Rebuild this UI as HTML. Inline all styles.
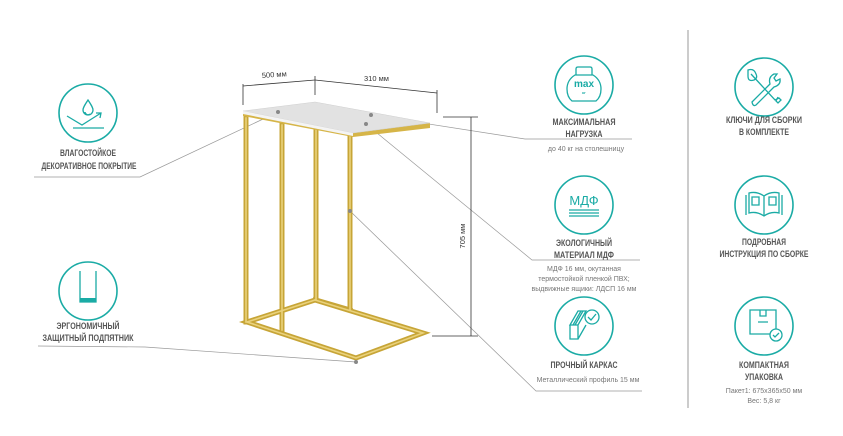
<!DOCTYPE html>
<html><head><meta charset="utf-8"><style>
html,body{margin:0;padding:0;background:#fff;}
svg{display:block;}
.h{font-family:"Liberation Sans",sans-serif;font-weight:bold;font-size:9px;fill:#555;text-anchor:middle;}
.d{font-family:"Liberation Sans",sans-serif;font-size:7px;fill:#777;text-anchor:middle;}
.c{fill:none;stroke:#1aaba5;stroke-width:1.6;}
.i{fill:none;stroke:#1aaba5;stroke-width:1.3;}
.l{fill:none;stroke:#999;stroke-width:0.7;}
.g{fill:none;stroke:#c7a537;stroke-width:5;stroke-linecap:square;}
.g2{fill:none;stroke:#ead27c;stroke-width:1.6;stroke-linecap:square;}
.dim{fill:none;stroke:#333;stroke-width:0.8;}
.dl{font-family:"Liberation Sans",sans-serif;font-size:7.5px;fill:#333;}
</style></head><body>
<svg width="843" height="436" viewBox="0 0 843 436" xmlns="http://www.w3.org/2000/svg">
<line x1="688" y1="30" x2="688" y2="408" stroke="#ccc" stroke-width="2"/>

<polyline class="l" points="34,177 140,177 278,112"/>
<polyline class="l" points="38,346 145,347 356,362"/>
<polyline class="l" points="371,115 525,139 632,139"/>
<polyline class="l" points="366,124 532,260 640,260"/>
<polyline class="l" points="350,211 536,391 642,391"/>

<g>
<polyline class="g" points="315,300 423,333 356,358 247,322 315,300"/>
<line class="g" x1="246" y1="118" x2="246" y2="322"/>
<line class="g" x1="282" y1="125" x2="282" y2="330"/>
<line class="g" x1="316" y1="116" x2="316" y2="300"/>
<line class="g" x1="350" y1="136" x2="350" y2="310"/>
<line class="g" x1="316" y1="300" x2="350" y2="310"/>
<polyline class="g2" points="315,300 423,333 356,358 247,322 315,300"/>
<line class="g2" x1="246" y1="118" x2="246" y2="322"/>
<line class="g2" x1="282" y1="125" x2="282" y2="330"/>
<line class="g2" x1="316" y1="116" x2="316" y2="300"/>
<line class="g2" x1="350" y1="136" x2="350" y2="310"/>
<polygon points="243,116 353,137 430,128 430,123 353,133 243,111" fill="#d6b548"/>
<polygon points="243,111 315,102 430,123 353,133" fill="#e2e2e2" stroke="#cfcfcf" stroke-width="0.5"/>
<polygon points="243,111 353,133 353,136 243,114" fill="#f4f4f4"/>
</g>
<circle cx="278" cy="112" r="2" fill="#888"/>
<circle cx="371" cy="115" r="2" fill="#888"/>
<circle cx="366" cy="124" r="2" fill="#888"/>
<circle cx="350" cy="211" r="2" fill="#888"/>
<circle cx="356" cy="362" r="2" fill="#888"/>

<line class="dim" x1="243" y1="86" x2="315" y2="80"/>
<line class="dim" x1="315" y1="80" x2="437" y2="93"/>
<line class="dim" x1="243" y1="84" x2="243" y2="105"/>
<line class="dim" x1="315" y1="76" x2="315" y2="95"/>
<line class="dim" x1="437" y1="90" x2="437" y2="113"/>
<text class="dl" x="262" y="78" transform="rotate(-4 262 78)">500 мм</text>
<text class="dl" x="364" y="81">310 мм</text>
<line class="dim" x1="471" y1="117" x2="471" y2="336"/>
<line class="dim" x1="443" y1="117" x2="478" y2="117"/>
<line class="dim" x1="432" y1="336" x2="478" y2="336"/>
<text class="dl" x="465" y="236" transform="rotate(-90 465 236)" text-anchor="middle">705 мм</text>

<circle class="c" cx="88" cy="113" r="29"/>
<path class="i" d="M88,100 c-4,6 -5,8 -5,10 a5,5 0 0 0 10,0 c0,-2 -1,-4 -5,-10z M85,112 a3,3 0 0 0 5,2"/>
<path class="i" d="M67,116 L82,125 L101,113 M96,113 L101,113 L100,118 M73,128 L104,128"/>
<text class="h" x="88" y="156" textLength="56" lengthAdjust="spacingAndGlyphs">ВЛАГОСТОЙКОЕ</text>
<text class="h" x="89" y="169" textLength="95" lengthAdjust="spacingAndGlyphs">ДЕКОРАТИВНОЕ ПОКРЫТИЕ</text>

<circle class="c" cx="88" cy="291" r="29"/>
<path class="i" d="M80,271 L80,302 L96,302 L96,271"/>
<rect x="80" y="298" width="16" height="4" fill="#1aaba5"/>
<text class="h" x="88" y="329" textLength="63" lengthAdjust="spacingAndGlyphs">ЭРГОНОМИЧНЫЙ</text>
<text class="h" x="88" y="341" textLength="91" lengthAdjust="spacingAndGlyphs">ЗАЩИТНЫЙ ПОДПЯТНИК</text>

<circle class="c" cx="584" cy="85" r="29"/>
<path class="i" d="M576,75 l0,-6 q0,-2 2,-2 l12,0 q2,0 2,2 l0,6"/>
<path class="i" d="M575,75 q-8,5 -8,14 q0,8 5,12 l24,0 q5,-4 5,-12 q0,-9 -8,-14 z"/>
<text x="584" y="87" font-family="Liberation Sans,sans-serif" font-weight="bold" font-size="10" fill="#1aaba5" text-anchor="middle">max</text>
<text x="584" y="94" font-family="Liberation Sans,sans-serif" font-weight="bold" font-size="4" fill="#1aaba5" text-anchor="middle">кг</text>
<text class="h" x="584" y="125" textLength="63" lengthAdjust="spacingAndGlyphs">МАКСИМАЛЬНАЯ</text>
<text class="h" x="584" y="137" textLength="37" lengthAdjust="spacingAndGlyphs">НАГРУЗКА</text>
<text class="d" x="586" y="151">до 40 кг на столешницу</text>

<circle class="c" cx="584" cy="205" r="29"/>
<text x="584" y="205" font-family="Liberation Sans,sans-serif" font-size="13" fill="#1aaba5" text-anchor="middle">МДФ</text>
<path class="i" d="M569,210 L599,210 M569,213 L599,213 M569,216 L599,216"/>
<text class="h" x="584" y="246" textLength="56" lengthAdjust="spacingAndGlyphs">ЭКОЛОГИЧНЫЙ</text>
<text class="h" x="584" y="258" textLength="60" lengthAdjust="spacingAndGlyphs">МАТЕРИАЛ МДФ</text>
<text class="d" x="584" y="271">МДФ 16 мм, окутанная</text>
<text class="d" x="584" y="281">термостойкой пленкой ПВХ;</text>
<text class="d" x="584" y="291">выдвижные ящики: ЛДСП 16 мм</text>

<circle class="c" cx="584" cy="326" r="29"/>
<path class="i" d="M570,325 l8,-14 l8,0 l-8,14 z M570,325 l0,14 l8,0 l0,-14 M578,339 l8,-14 M573,325 l8,-14 M575,325 l8,-14"/>
<circle class="i" cx="592" cy="317" r="7"/>
<path class="i" d="M588,317 l3,3 l5,-6"/>
<text class="h" x="584" y="368" textLength="67" lengthAdjust="spacingAndGlyphs">ПРОЧНЫЙ КАРКАС</text>
<text class="d" x="588" y="382">Металлический профиль 15 мм</text>

<circle class="c" cx="764" cy="87" r="29"/>
<path class="i" d="M751,74 l24,26 l4,-2 l2,2 l-3,3 l-2,-2 l2,-4 M748,70 q6,-2 8,4 q2,4 -2,6 q-6,2 -6,-4z"/>
<path class="i" d="M752,102 l18,-18 q-2,-7 4,-10 l3,0 l-3,4 l2,3 l4,-2 q1,6 -6,8 l-18,18 q-3,2 -4,-3z"/>
<text class="h" x="764" y="123" textLength="76" lengthAdjust="spacingAndGlyphs">КЛЮЧИ ДЛЯ СБОРКИ</text>
<text class="h" x="764" y="135" textLength="50" lengthAdjust="spacingAndGlyphs">В КОМПЛЕКТЕ</text>

<circle class="c" cx="764" cy="205" r="29"/>
<path class="i" d="M749,193 l0,20 q8,-2 15,3 q7,-5 15,-3 l0,-20 q-8,-2 -15,3 q-7,-5 -15,-3z M764,196 l0,20 M746,195 l0,20 M782,195 l0,20 M752,197 l7,0 l0,8 l-7,0z M769,197 l7,0 l0,8 l-7,0z"/>
<text class="h" x="764" y="245" textLength="44" lengthAdjust="spacingAndGlyphs">ПОДРОБНАЯ</text>
<text class="h" x="764" y="257" textLength="89" lengthAdjust="spacingAndGlyphs">ИНСТРУКЦИЯ ПО СБОРКЕ</text>

<circle class="c" cx="764" cy="326" r="29"/>
<path class="i" d="M750,310 l26,0 l0,24 l-26,0z M760,310 l0,6 l6,0 l0,-6 M758,322 l10,0"/>
<circle cx="776" cy="335" r="6" fill="#fff" stroke="#1aaba5" stroke-width="1.3"/>
<path class="i" d="M773,335 l2,2 l4,-4"/>
<text class="h" x="764" y="368" textLength="50" lengthAdjust="spacingAndGlyphs">КОМПАКТНАЯ</text>
<text class="h" x="764" y="380" textLength="38" lengthAdjust="spacingAndGlyphs">УПАКОВКА</text>
<text class="d" x="764" y="393">Пакет1: 675х365х50 мм</text>
<text class="d" x="764" y="403">Вес: 5,8 кг</text>
</svg>
</body></html>
